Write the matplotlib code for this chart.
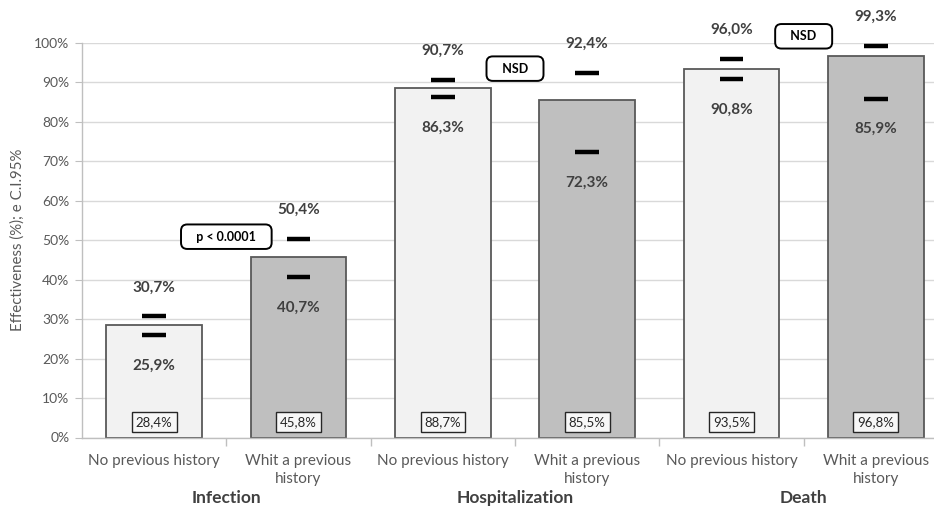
import numpy as np
import matplotlib

matplotlib.use('Agg')
import matplotlib.pyplot as plt
from matplotlib.ticker import FuncFormatter, FixedLocator
from matplotlib.transforms import blended_transform_factory

plt.rcParams['font.family'] = ['Lato', 'DejaVu Sans']

# data
bar_labels = ["No previous history", "Whit a previous\nhistory"] * 3
groups = ["Infection", "Hospitalization", "Death"]
effect = [28.4, 45.8, 88.7, 85.5, 93.5, 96.8]
ci_low = [25.9, 40.7, 86.3, 72.3, 90.8, 85.9]
ci_high = [30.7, 50.4, 90.7, 92.4, 96.0, 99.3]
tests = ["p < 0.0001", "NSD", "NSD"]
test_y = [50.9, 93.5, 101.7]

light = "#f2f2f2"
dark = "#bfbfbf"
txt = "#404040"
axcol = "#595959"


def pct(v):
    return ("%.1f%%" % v).replace(".", ",")


fig = plt.figure(figsize=(9.34, 5.09), dpi=100)
# the right end of the plot area is cut off in the original picture
ax = fig.add_axes([82 / 934, 71.5 / 509, 866 / 934, 394.5 / 509])

x = np.arange(len(effect))
colors = [light if i % 2 == 0 else dark for i in x]
ax.bar(x, effect, width=0.665, color=colors, edgecolor="#595959", linewidth=1.3, zorder=2)

# confidence interval dashes
ax.hlines(ci_high, x - 0.083, x + 0.083, color="black", linewidth=3.2, zorder=3)
ax.hlines(ci_low, x - 0.083, x + 0.083, color="black", linewidth=3.2, zorder=3)

for i in x:
    ax.text(i, ci_high[i] + 7.3, pct(ci_high[i]), ha="center", va="center",
            fontsize=11, fontweight="bold", color=txt, zorder=4)
    ax.text(i, ci_low[i] - 7.7, pct(ci_low[i]), ha="center", va="center",
            fontsize=11, fontweight="bold", color=txt, zorder=4)
    ax.text(i, 4.0, pct(effect[i]), ha="center", va="center",
            fontsize=9.5, color="#262626", zorder=4,
            bbox=dict(boxstyle="square,pad=0.3", facecolor="#f7f7f7", edgecolor="#262626", linewidth=1))

# significance boxes between the two bars of each group
for g in range(3):
    ax.text(2 * g + 0.5, test_y[g], "\u2002 " + tests[g] + " \u2002", ha="center", va="center",
            fontsize=9, fontweight="bold", color="black", zorder=5, clip_on=False,
            bbox=dict(boxstyle="round,pad=0.5,rounding_size=0.5", facecolor="white",
                      edgecolor="black", linewidth=1.4))

ax.set_xlim(-0.5, 5.5)
ax.set_ylim(0, 100)
ax.set_yticks(np.arange(0, 101, 10))
ax.yaxis.set_major_formatter(FuncFormatter(lambda v, p: "%d%%" % v))
ax.grid(axis="y", color="#d9d9d9", linewidth=1, zorder=0)
ax.set_axisbelow(True)

ax.set_xticks(x)
ax.set_xticklabels(bar_labels, fontsize=11, color=axcol, linespacing=1.35)
ax.xaxis.set_minor_locator(FixedLocator(np.arange(0.5, 5.0, 1.0)))
ax.tick_params(axis="x", which="major", length=0, pad=12)
ax.tick_params(axis="x", which="minor", length=6, color="#bfbfbf", width=1)
ax.tick_params(axis="y", length=5, color="#bfbfbf", labelsize=10, labelcolor=axcol, pad=4)

for s in ["top", "right"]:
    ax.spines[s].set_visible(False)
for s in ["left", "bottom"]:
    ax.spines[s].set_color("#bfbfbf")
    ax.spines[s].set_linewidth(1)

trans = blended_transform_factory(ax.transData, fig.transFigure)
for g in range(3):
    fig.text(2 * g + 0.5, 1 - 498 / 509, groups[g], transform=trans, ha="center", va="center",
             fontsize=12.5, fontweight="bold", color=txt)

fig.text(18 / 934, 1 - 240 / 509, "Effectiveness (%); e C.I.95%", rotation=90, ha="center",
         va="center", fontsize=10.8, color=axcol)

plt.savefig("out.png", dpi=100)
plt.close()
